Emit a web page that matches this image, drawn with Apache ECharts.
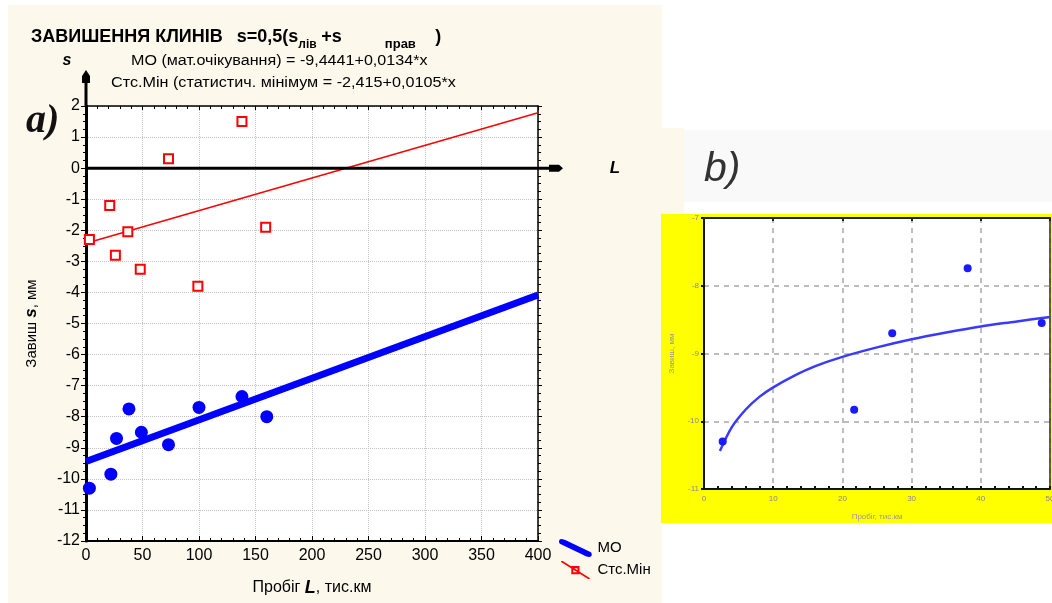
<!DOCTYPE html>
<html><head><meta charset="utf-8">
<script src="https://cdn.jsdelivr.net/npm/echarts@6.0.0/dist/echarts.min.js"></script>
<style>
html,body{margin:0;padding:0;background:#fff;}
#wrap{position:relative;width:1052px;height:603px;overflow:hidden;}
.bg{position:absolute;}
#c{position:absolute;left:0;top:0;width:1052px;height:603px;}
</style>
</head><body>
<div id="wrap">
  <div class="bg" style="left:8px;top:5px;width:654px;height:598px;background:#fdf8ec;"></div>
  <div class="bg" style="left:662px;top:128px;width:22px;height:86px;background:#fdf8ec;"></div>
  <div class="bg" style="left:684px;top:130px;width:368px;height:72px;background:#f9f9f9;"></div>
  <div class="bg" style="left:661px;top:214px;width:391px;height:309px;background:#ffff00;"></div>
  <div id="c"></div>
</div>
<script>
// ---------- panel a) data ----------
const aXTicks = [0, 50, 100, 150, 200, 250, 300, 350, 400];
const aYTicks = [-12, -11, -10, -9, -8, -7, -6, -5, -4, -3, -2, -1, 0, 1, 2];
const moMileage = [3, 22, 27, 38, 49, 73, 100, 138, 160];
const moSag     = [-10.3, -9.85, -8.7, -7.75, -8.5, -8.9, -7.7, -7.35, -8.0];
const minMileage = [3, 21, 26, 37, 48, 73, 99, 138, 159];
const minSag     = [-2.3, -1.2, -2.8, -2.05, -3.25, 0.3, -3.8, 1.5, -1.9];
const moFitMileage  = [0, 400];
const moFitSag      = [-9.44, -4.08];
const minFitMileage = [0, 400];
const minFitSag     = [-2.42, 1.78];

// ---------- panel b) data ----------
const bXTicks = [0, 10, 20, 30, 40, 50];
const bYTicks = [-11, -10, -9, -8, -7];
const bMileage = [2.7, 21.7, 27.2, 38.1, 48.8];
const bSag     = [-10.3, -9.83, -8.7, -7.74, -8.55];
const bCurveMileage = [2.3, 4, 6, 8, 10, 13, 16, 20, 25, 30, 35, 40, 45, 50];
const bCurveSag     = [-10.44, -10.09, -9.83, -9.64, -9.5, -9.33, -9.19, -9.05, -8.91, -8.79, -8.69, -8.6, -8.53, -8.46];

const zip = (xs, ys) => xs.map((x, i) => [x, ys[i]]);
const FF = '"Liberation Sans", Arial, sans-serif';

const moIcon = 'path://M3,0 C5,0 7,1 9,2 L32,13 C34,14 34,18 31,18 C29,18 27,17 25,16 L2,5 C0,4 0,0 3,0 Z';
const minIcon = 'path://M3,0 L4.6,0 L31,16.6 L31,17.6 L29.4,17.6 L3,1 Z M13,5 L21,5 L21,13 L13,13 Z M15,7 L15,11 L19,11 L19,7 Z';

const chart = echarts.init(document.getElementById('c'), null, {renderer: 'canvas'});

function axisRange(t) { return {min: t[0], max: t[t.length - 1], interval: t[1] - t[0]}; }

const subStyle = {fontFamily: FF, fontSize: 12, fontWeight: 'bold', color: '#000', verticalAlign: 'bottom', lineHeight: 28};
const option = {
  backgroundColor: 'transparent',
  animation: false,
  title: {
    left: 31, top: 23, padding: 0,
    text: 'ЗАВИШЕННЯ КЛИНІВ{g|}s=0,5(s{l|лів}{ps|+s}{p|прав})',
    textStyle: {
      fontFamily: FF, fontSize: 18, fontWeight: 'bold', color: '#000', lineHeight: 28,
      rich: {
        g: {width: 14, lineHeight: 28},
        l: Object.assign({width: 23}, subStyle),
        ps: {fontFamily: FF, fontSize: 18, fontWeight: 'bold', color: '#000', width: 44, lineHeight: 28},
        p: Object.assign({}, subStyle, {fontSize: 13, width: 70, align: 'center'})
      }
    }
  },
  legend: {
    show: true, orient: 'vertical', left: 559, top: 539, padding: 0,
    itemWidth: 34, itemHeight: 18, itemGap: 4, selectedMode: false,
    textStyle: {fontFamily: FF, fontSize: 15, color: '#000'},
    data: [
      {name: 'МО', icon: moIcon, itemStyle: {color: '#0000ff', borderWidth: 0, opacity: 1}},
      {name: 'Стс.Мін', icon: minIcon, itemStyle: {color: '#ff0000', borderWidth: 0, opacity: 1}}
    ]
  },
  grid: [
    {left: 86, top: 106, width: 452, height: 435, show: true, backgroundColor: '#fff', borderWidth: 0, containLabel: false, outerBoundsMode: 'none'},
    {left: 704, top: 218, width: 346, height: 271, show: true, backgroundColor: '#fff', borderWidth: 0, containLabel: false, outerBoundsMode: 'none'}
  ],
  xAxis: [
    Object.assign({
      gridIndex: 0, type: 'value', position: 'bottom',
      axisLine: {show: true, onZero: false, lineStyle: {color: '#000', width: 2}},
      axisTick: {show: true, inside: true, length: 5, lineStyle: {color: '#000', width: 1}},
      minorTick: {show: true, splitNumber: 5, length: 3, lineStyle: {color: '#000', width: 1}},
      axisLabel: {color: '#000', fontSize: 16, fontFamily: FF, margin: 7},
      splitLine: {show: true, lineStyle: {color: '#c4c4c4', type: 'dotted', width: 1}},
      minorSplitLine: {show: false},
      name: 'Пробіг {b|L}, тис.км', nameLocation: 'middle', nameGap: 38,
      nameTextStyle: {fontFamily: FF, fontSize: 16, color: '#000',
        rich: {b: {fontFamily: FF, fontSize: 18, fontWeight: 'bold', fontStyle: 'italic', color: '#000'}}}
    }, axisRange(aXTicks)),
    Object.assign({
      gridIndex: 0, type: 'value', position: 'top',
      axisLine: {show: true, onZero: false, lineStyle: {color: '#000', width: 1.5}},
      axisTick: {show: true, inside: true, length: 4, lineStyle: {color: '#000', width: 1}},
      minorTick: {show: true, splitNumber: 5, length: 3, lineStyle: {color: '#000', width: 1}},
      axisLabel: {show: false}, splitLine: {show: false}
    }, axisRange(aXTicks)),
    Object.assign({
      gridIndex: 1, type: 'value', position: 'bottom',
      axisLine: {show: true, onZero: false, lineStyle: {color: '#111', width: 2}},
      axisTick: {show: true, inside: true, length: 3, lineStyle: {color: '#111', width: 2}},
      minorTick: {show: true, splitNumber: 5, length: 3, lineStyle: {color: '#111', width: 2}},
      axisLabel: {color: '#888', fontSize: 8, fontFamily: FF, margin: 6},
      splitLine: {show: true, lineStyle: {color: '#a8a8a8', type: [5, 5], width: 1.5}},
      name: 'Пробіг, тис.км', nameLocation: 'middle', nameGap: 24,
      nameTextStyle: {fontFamily: FF, fontSize: 8, color: '#999'}
    }, axisRange(bXTicks)),
    Object.assign({
      gridIndex: 1, type: 'value', position: 'top',
      axisLine: {show: true, onZero: false, lineStyle: {color: '#222', width: 2}},
      axisTick: {show: true, inside: true, length: 3, lineStyle: {color: '#222', width: 2}},
      axisLabel: {show: false}, splitLine: {show: false}
    }, axisRange(bXTicks))
  ],
  yAxis: [
    Object.assign({
      gridIndex: 0, type: 'value', position: 'left',
      axisLine: {show: true, onZero: false, lineStyle: {color: '#000', width: 3}},
      axisTick: {show: true, inside: false, length: 5, lineStyle: {color: '#000', width: 1}},
      minorTick: {show: true, splitNumber: 4, length: 3, lineStyle: {color: '#000', width: 1}},
      axisLabel: {color: '#000', fontSize: 16, fontFamily: FF, margin: 6},
      splitLine: {show: true, lineStyle: {color: '#c4c4c4', type: 'dotted', width: 1}},
      name: 'Завиш {b|s}, мм', nameLocation: 'middle', nameGap: 46, nameRotate: 90,
      nameTextStyle: {fontFamily: FF, fontSize: 15, color: '#000',
        rich: {b: {fontFamily: FF, fontSize: 17, fontWeight: 'bold', fontStyle: 'italic', color: '#000'}}}
    }, axisRange(aYTicks)),
    Object.assign({
      gridIndex: 0, type: 'value', position: 'right',
      axisLine: {show: true, onZero: false, lineStyle: {color: '#000', width: 1.5}},
      axisTick: {show: true, inside: false, length: 4, lineStyle: {color: '#000', width: 1}},
      minorTick: {show: true, splitNumber: 4, length: 3, lineStyle: {color: '#000', width: 1}},
      axisLabel: {show: false}, splitLine: {show: false}
    }, axisRange(aYTicks)),
    Object.assign({
      gridIndex: 1, type: 'value', position: 'left',
      axisLine: {show: true, onZero: false, lineStyle: {color: '#111', width: 2}},
      axisTick: {show: true, inside: false, length: 3, lineStyle: {color: '#111', width: 2}},
      axisLabel: {color: '#888', fontSize: 8, fontFamily: FF, margin: 5},
      splitLine: {show: true, lineStyle: {color: '#a8a8a8', type: [5, 5], width: 1.5}},
      name: 'Завиш, мм', nameLocation: 'middle', nameGap: 28, nameRotate: 90,
      nameTextStyle: {fontFamily: FF, fontSize: 8, color: '#999'}
    }, axisRange(bYTicks)),
    Object.assign({
      gridIndex: 1, type: 'value', position: 'right',
      axisLine: {show: true, onZero: false, lineStyle: {color: '#333', width: 1.5}},
      axisTick: {show: false}, axisLabel: {show: false}, splitLine: {show: false}
    }, axisRange(bYTicks))
  ],
  series: [
    {name: 'Стс.Мін', type: 'line', xAxisIndex: 0, yAxisIndex: 0, data: zip(minFitMileage, minFitSag),
      showSymbol: false, symbol: 'none', lineStyle: {color: '#ff0000', width: 1.5, opacity: 1}, itemStyle: {color: '#ff0000'}, z: 3, silent: true},
    {name: 'МО', type: 'line', xAxisIndex: 0, yAxisIndex: 0, data: zip(moFitMileage, moFitSag),
      showSymbol: false, symbol: 'none', lineStyle: {color: '#0000ff', width: 7, opacity: 1}, itemStyle: {color: '#0000ff'}, z: 3, silent: true},
    {name: 'Стс.Мін', type: 'scatter', xAxisIndex: 0, yAxisIndex: 0, data: zip(minMileage, minSag),
      symbol: 'rect', symbolSize: 9, itemStyle: {color: '#fff', borderColor: '#ff0000', borderWidth: 2, opacity: 1}, z: 4, silent: true},
    {name: 'МО', type: 'scatter', xAxisIndex: 0, yAxisIndex: 0, data: zip(moMileage, moSag),
      symbol: 'circle', symbolSize: 13, itemStyle: {color: '#0000ff', opacity: 1}, z: 4, silent: true},
    {name: 'b-curve', type: 'line', xAxisIndex: 2, yAxisIndex: 2, data: zip(bCurveMileage, bCurveSag),
      smooth: 0.3, showSymbol: false, symbol: 'none', lineStyle: {color: '#3a3aff', width: 2.5, opacity: 1}, z: 3, silent: true},
    {name: 'b-points', type: 'scatter', xAxisIndex: 2, yAxisIndex: 2, data: zip(bMileage, bSag),
      symbol: 'circle', symbolSize: 8, itemStyle: {color: '#1a1aff', opacity: 1}, z: 4, silent: true}
  ]
};
chart.setOption(option);

// decorations positioned through the axes' own scales
const o = chart.convertToPixel({xAxisIndex: 0, yAxisIndex: 0}, [aXTicks[0], 0]);
const xe = chart.convertToPixel({xAxisIndex: 0, yAxisIndex: 0}, [aXTicks[aXTicks.length - 1], 0]);
const yt = chart.convertToPixel({xAxisIndex: 0, yAxisIndex: 0}, [aXTicks[0], aYTicks[aYTicks.length - 1]]);
const ox = o[0], oy = o[1], ex = xe[0], ty = yt[1];

chart.setOption({
  graphic: [
    {type: 'line', z: 50, shape: {x1: ox, y1: oy, x2: ex + 12, y2: oy}, style: {stroke: '#000', lineWidth: 3}},
    {type: 'polygon', z: 50, shape: {points: [[ex + 11, oy - 3.5], [ex + 21, oy - 3.5], [ex + 25, oy], [ex + 21, oy + 3.5], [ex + 11, oy + 3.5]]}, style: {fill: '#000'}},
    {type: 'line', z: 50, shape: {x1: ox, y1: ty, x2: ox, y2: ty - 24}, style: {stroke: '#000', lineWidth: 3}},
    {type: 'polygon', z: 50, shape: {points: [[ox, ty - 36], [ox + 4, ty - 30], [ox + 4, ty - 23], [ox - 4, ty - 23], [ox - 4, ty - 30]]}, style: {fill: '#000'}},
    {type: 'text', z: 50, x: ex + 77, y: oy, style: {text: 'L', fontFamily: FF, fontSize: 17, fontWeight: 'bold', fontStyle: 'italic', fill: '#000', align: 'center', verticalAlign: 'middle'}},
    {type: 'text', z: 50, x: 67, y: 61, style: {text: 's', fontFamily: FF, fontSize: 16, fontWeight: 'bold', fontStyle: 'italic', fill: '#000', align: 'center', verticalAlign: 'middle'}},
    {type: 'text', z: 50, x: 131, y: 61, scaleX: 1.15, style: {text: 'МО (мат.очікування) = -9,4441+0,0134*x', fontFamily: FF, fontSize: 14, fill: '#000', align: 'left', verticalAlign: 'middle'}},
    {type: 'text', z: 50, x: 111, y: 83, scaleX: 1.155, style: {text: 'Стс.Мін (статистич. мінімум = -2,415+0,0105*x', fontFamily: FF, fontSize: 14, fill: '#000', align: 'left', verticalAlign: 'middle'}},
    {type: 'text', z: 50, x: 26, y: 122, style: {text: 'a)', fontFamily: '"Liberation Serif", "Times New Roman", serif', fontSize: 40, fontStyle: 'italic', fontWeight: 'bold', fill: '#111', align: 'left', verticalAlign: 'middle'}},
    {type: 'text', z: 50, x: 704, y: 170, style: {text: 'b)', fontFamily: FF, fontSize: 41, fontStyle: 'italic', fill: '#333', align: 'left', verticalAlign: 'middle'}}
  ]
});
</script>
</body></html>
